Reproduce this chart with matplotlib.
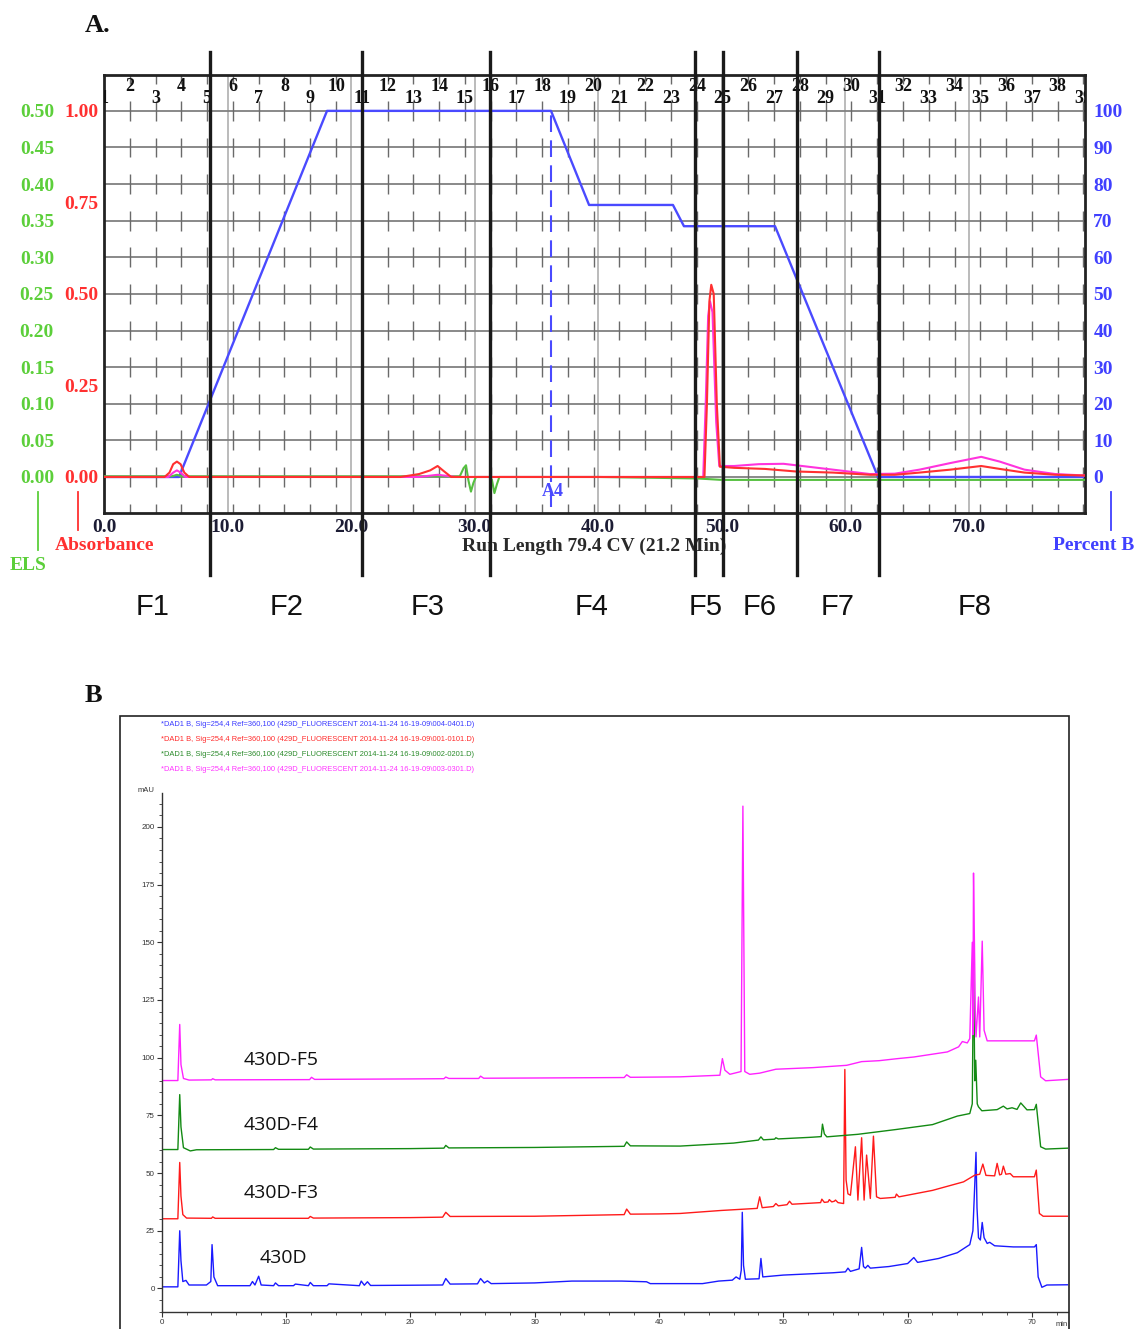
import matplotlib
matplotlib.use("Agg")
import matplotlib.pyplot as plt
from matplotlib.collections import LineCollection
from matplotlib.lines import Line2D
from matplotlib.patches import Rectangle
from matplotlib.transforms import blended_transform_factory

# ---------------- panel A : flash chromatography ----------------
gradient_cv = [0, 6.07, 18.05, 36.18, 39.26, 46.05, 46.94, 54.31, 62.65, 79.4]
gradient_pct = [0, 0, 100, 100, 74.3, 74.3, 68.5, 68.5, 0, 0]

abs_red = [(0, 0.0), (4.9, 0.0), (5.3, 0.012), (5.6, 0.035), (5.9, 0.042), (6.2, 0.035),
           (6.5, 0.012), (6.9, 0.0), (24.0, 0.0), (25.5, 0.008), (26.4, 0.018), (27.0, 0.030),
           (27.5, 0.016), (28.1, 0.0), (48.6, 0.0), (48.8, 0.2), (49.0, 0.48), (49.15, 0.525),
           (49.35, 0.5), (49.6, 0.2), (49.85, 0.028), (51.0, 0.025), (53.5, 0.022), (56.0, 0.015),
           (59.0, 0.012), (62.0, 0.006), (64.0, 0.006), (66.0, 0.012), (68.5, 0.02), (71.0, 0.03),
           (72.5, 0.022), (74.5, 0.012), (77.0, 0.006), (79.4, 0.004)]
abs_pink = [(0, 0.0), (5.2, 0.0), (5.6, 0.012), (5.9, 0.018), (6.2, 0.012), (6.6, 0.0),
            (25.5, 0.0), (27.0, 0.006), (28.5, 0.0), (48.5, 0.0), (48.7, 0.2), (48.9, 0.44),
            (49.05, 0.48), (49.25, 0.45), (49.55, 0.15), (49.8, 0.03), (51.0, 0.03), (53.0, 0.035),
            (55.0, 0.036), (57.0, 0.028), (59.0, 0.02), (62.0, 0.008), (64.0, 0.009), (66.0, 0.02),
            (68.5, 0.038), (71.0, 0.055), (72.5, 0.042), (74.5, 0.02), (77.0, 0.008), (79.4, 0.004)]
els_green = [(0, 0.001), (5.5, 0.001), (5.9, 0.003), (6.3, 0.001), (28.8, 0.001), (29.1, 0.012),
             (29.3, 0.016), (29.5, -0.005), (29.7, -0.02), (29.9, -0.008), (30.1, 0.0), (31.2, 0.0),
             (31.4, -0.004), (31.6, -0.022), (31.8, -0.01), (32.0, 0.0), (40.0, 0.0), (48.0, -0.002),
             (50.0, -0.004), (79.4, -0.004)]

fraction_width_cv = 2.086
n_fractions = 39
fraction_cut_cv = [8.58, 20.88, 31.24, 47.83, 50.1, 56.09, 62.73]
pool_names = ["F1", "F2", "F3", "F4", "F5", "F6", "F7", "F8"]
pool_label_cv = [3.97, 14.81, 26.2, 39.5, 48.7, 53.1, 59.4, 70.5]
a4_cv = 36.2

pct_ticks = list(range(0, 101, 10))
abs_ticks = [0, 0.25, 0.5, 0.75, 1.0]
els_ticks = [0, 0.05, 0.1, 0.15, 0.2, 0.25, 0.3, 0.35, 0.4, 0.45, 0.5]
cv_ticks = [0, 10, 20, 30, 40, 50, 60, 70]

# ---------------- panel B : HPLC traces ----------------
hplc_430d = [(0, 0.7), (1.3, 0.7), (1.45, 25), (1.55, 12), (1.7, 3), (1.95, 3.5), (2.2, 1.5),
             (3.6, 1.5), (3.95, 3), (4.05, 19), (4.2, 5), (4.5, 1.2), (7.1, 1.2), (7.3, 3),
             (7.5, 1.5), (7.8, 5.3), (8.0, 1.5), (9.0, 1.2), (9.15, 2.4), (9.4, 1.2), (10.6, 1.2),
             (10.75, 1.9), (11.8, 1.2), (11.95, 2.6), (12.2, 1.2), (13.3, 1.2), (13.45, 2.0),
             (15.9, 1.2), (16.05, 3.2), (16.3, 1.4), (16.55, 2.9), (16.8, 1.3), (20, 1.4),
             (22.6, 1.5), (22.85, 4.3), (23.2, 1.9), (25.4, 2.0), (25.65, 4.3), (25.95, 2.4),
             (26.2, 3.3), (26.5, 2.1), (30, 2.4), (33, 3.2), (37, 3.2), (39, 2.9), (39.3, 2.1),
             (43.5, 2.1), (44.8, 3.2), (45.9, 3.6), (46.2, 5), (46.5, 4), (46.62, 8), (46.7, 33),
             (46.8, 10), (46.95, 4), (48.05, 4.2), (48.2, 13), (48.35, 5), (50, 5.8), (52, 6.3),
             (54, 6.8), (55.0, 7.2), (55.2, 8.8), (55.4, 7.4), (56.1, 8.5), (56.3, 17.8),
             (56.45, 9.5), (56.6, 8.8), (56.8, 10), (57.0, 8.8), (58.5, 9.5), (60.0, 10.8),
             (60.5, 13.4), (60.8, 11.3), (62.5, 13), (64.0, 15.5), (65.0, 19), (65.25, 25),
             (65.4, 45), (65.5, 59), (65.58, 35), (65.7, 22), (65.85, 21), (66.0, 28.6),
             (66.15, 22), (66.4, 19.5), (66.6, 20), (67.0, 18.5), (68.5, 18), (70.2, 18),
             (70.35, 19), (70.5, 5), (70.8, 0.5), (71.2, 1.5), (72.9, 1.6)]
hplc_f3 = [(0, 30.2), (1.3, 30.2), (1.45, 54.6), (1.55, 40), (1.7, 32), (2.0, 30.5), (4.0, 30.4),
           (4.1, 31), (4.3, 30.4), (11.8, 30.4), (11.95, 31.2), (12.2, 30.5), (20, 30.7),
           (22.6, 30.9), (22.85, 33), (23.2, 31.2), (30, 31.3), (37.2, 32), (37.4, 34.4),
           (37.7, 32.2), (40, 32.3), (41.7, 32.5), (45, 33.8), (47.9, 34.7), (48.1, 39.7),
           (48.3, 35), (49.2, 35.5), (49.4, 36.8), (49.6, 35.8), (50.3, 36.3), (50.5, 37.8),
           (50.7, 36.5), (53.0, 37.2), (53.1, 38.7), (53.3, 37.3), (53.6, 37.5), (53.7, 38.5),
           (53.9, 37.5), (54.1, 37.8), (54.2, 38.3), (54.4, 37.2), (54.85, 36.8), (54.95, 94.9),
           (55.05, 47), (55.2, 41), (55.4, 40.4), (55.8, 61.4), (56.0, 38.3), (56.3, 65.3),
           (56.5, 38.3), (56.7, 57.8), (57.0, 39), (57.25, 66), (57.5, 39.7), (57.8, 39),
           (59.0, 39.5), (59.1, 40.9), (59.3, 39.7), (62, 42.5), (64.5, 46.2), (65.4, 49.1),
           (65.8, 49.5), (66.05, 53.9), (66.3, 49), (67.0, 48.8), (67.2, 54.2), (67.4, 49.2),
           (67.55, 49.5), (67.7, 53), (67.9, 49.5), (68.25, 49.8), (68.5, 48.4), (70.2, 48.4),
           (70.35, 51.3), (70.6, 32.5), (70.9, 31.3), (72.9, 31.3)]
hplc_f4 = [(0, 60.2), (1.3, 60.2), (1.45, 84), (1.55, 70), (1.75, 61), (2.3, 59.6), (2.8, 60.1),
           (9.0, 60.2), (9.15, 61), (9.4, 60.3), (11.8, 60.3), (11.95, 61.3), (12.2, 60.4),
           (20, 60.6), (22.7, 60.8), (22.85, 62), (23.1, 60.9), (30, 61.1), (37.2, 61.6),
           (37.4, 63.5), (37.7, 61.8), (41.7, 61.7), (46, 63), (48.0, 64.3), (48.2, 65.7),
           (48.4, 64.4), (49.3, 64.7), (49.4, 65.3), (49.6, 64.8), (52.2, 65.5), (53.05, 65.8),
           (53.15, 71.2), (53.3, 67), (53.5, 65.7), (56, 66.8), (59.1, 68.9), (62, 71),
           (64.0, 74.7), (65.0, 75.8), (65.2, 80), (65.3, 143.2), (65.4, 90), (65.48, 98.9),
           (65.6, 80), (65.7, 78.7), (65.97, 77), (67.2, 77.5), (67.7, 79), (68.0, 77.8),
           (68.4, 78.3), (68.8, 77.6), (69.1, 80.4), (69.6, 77.4), (70.2, 77.5), (70.35, 79.8),
           (70.7, 61.4), (71.1, 60.4), (72.9, 60.8)]
hplc_f5 = [(0, 90.1), (1.3, 90.1), (1.45, 114.4), (1.55, 97), (1.75, 91), (2.2, 90.3), (4.0, 90.4),
           (4.1, 90.9), (4.3, 90.4), (11.9, 90.5), (12.05, 91.5), (12.3, 90.6), (20, 90.8),
           (22.7, 90.9), (22.85, 91.6), (23.1, 91), (25.5, 91), (25.65, 92), (25.9, 91.1),
           (30, 91.2), (37.2, 91.4), (37.4, 92.6), (37.7, 91.5), (41.7, 91.7), (44.9, 92.4),
           (45.1, 99.6), (45.3, 94.6), (45.7, 92.8), (46.3, 93.6), (46.6, 94), (46.75, 209),
           (46.9, 94), (47.3, 92.8), (48.1, 93.3), (49.4, 95.0), (52.4, 95.7), (55.1, 96.7),
           (56.3, 98.3), (57.7, 98.7), (59.2, 99.6), (60.5, 100.3), (63.2, 102.5), (64.1, 104.7),
           (64.4, 107), (64.8, 106.4), (65.0, 108.3), (65.2, 150), (65.25, 110), (65.3, 180),
           (65.35, 159.6), (65.45, 117.7), (65.5, 109), (65.7, 126.3), (65.8, 109), (66.0, 150.5),
           (66.15, 111.9), (66.4, 107.3), (70.2, 107.3), (70.35, 109.8), (70.7, 91.7), (71.1, 90),
           (72.9, 90.6)]

trace_names = ["430D", "430D-F3", "430D-F4", "430D-F5"]
trace_colors = ["#1a1aff", "#ff1a1a", "#138a13", "#ff22ff"]
trace_label_pos = [(7.9, 13.1), (6.55, 41.3), (6.55, 70.7), (6.55, 98.9)]
legend_lines = [
    ("*DAD1 B, Sig=254,4 Ref=360,100 (429D_FLUORESCENT 2014-11-24 16-19-09\\004-0401.D)", "#3a3aff"),
    ("*DAD1 B, Sig=254,4 Ref=360,100 (429D_FLUORESCENT 2014-11-24 16-19-09\\001-0101.D)", "#ff2a2a"),
    ("*DAD1 B, Sig=254,4 Ref=360,100 (429D_FLUORESCENT 2014-11-24 16-19-09\\002-0201.D)", "#2a8a2a"),
    ("*DAD1 B, Sig=254,4 Ref=360,100 (429D_FLUORESCENT 2014-11-24 16-19-09\\003-0301.D)", "#ff33ff"),
]

W, H = 1139, 1329
GREEN, RED, BLUE, PINK = "#5ccf3a", "#ff3030", "#4040ff", "#ff33dd"
SERIF = "Liberation Serif"
SMALL = "Liberation Sans"

def fx(px):
    return px / W

def fy(py):
    return 1 - py / H

plt.rcParams["font.family"] = SERIF
fig = plt.figure(figsize=(W / 100, H / 100), dpi=100)
fig.patch.set_facecolor("white")

# ======== panel A ========
axA = fig.add_axes([fx(104), fy(513), (1085 - 104) / W, (513 - 75) / H])
axA.set_xlim(0, 79.4)
axA.set_ylim(-9.84, 109.8)
for s in axA.spines.values():
    s.set_linewidth(2)
    s.set_color("#222222")

axEls = axA.twinx()
axAbs = axA.twinx()

axA.set_xticks(cv_ticks, labels=[f"{v:.1f}" for v in cv_ticks],
               fontsize=14, fontweight="bold", color="#1c1c34", family=SERIF)
axA.set_yticks(pct_ticks, labels=[str(v) for v in pct_ticks],
               fontsize=14, fontweight="bold", color=BLUE, family=SERIF)
axA.yaxis.tick_right()
axA.tick_params(axis="x", length=0, pad=4)
axA.tick_params(axis="y", length=0, pad=6, labelright=True, labelleft=False)
axA.grid(axis="y", color="#808080", lw=1.3)
axA.grid(axis="x", color="#a8a8a8", lw=1.1)
axA.set_axisbelow(True)

# fraction collector marks
frac_x = [(n - 1) * fraction_width_cv for n in range(2, n_fractions + 1)]
segs = [[(x, lv - 2.7), (x, lv + 2.7)] for x in frac_x for lv in range(-10, 120, 10)]
axA.add_collection(LineCollection(segs, colors="#6a6a6a", linewidths=1.0, zorder=1.5))
for n in range(1, n_fractions + 1):
    axA.text((n - 1) * fraction_width_cv, 106.6 if n % 2 == 0 else 103.4, str(n),
             ha="center", va="center", fontsize=13, fontweight="bold", color="#111111",
             clip_on=True)

axA.plot(gradient_cv, gradient_pct, color="#4a4aff", lw=1.7, zorder=2)
axA.plot([a4_cv, a4_cv], [-8.2, 100], color="#4a4aff", lw=1.5, ls=(0, (8, 4)), zorder=2)
axA.text(a4_cv + 0.1, -4.1, "A4", color="#4a4aff", fontsize=13, fontweight="bold",
         ha="center", va="center")
axA.text(0.5, -0.075, "Run Length 79.4 CV (21.2 Min)", transform=axA.transAxes,
         ha="center", va="center", fontsize=14, fontweight="bold", color="#2a2a2a")

axEls.set_ylim(-0.0492, 0.549)
axEls.yaxis.set_ticks_position("left")
axEls.set_yticks(els_ticks, labels=[f"{v:.2f}" for v in els_ticks],
                 fontsize=14, fontweight="bold", color=GREEN, family=SERIF)
axEls.tick_params(axis="y", length=0, pad=36)
axEls.plot([p[0] for p in els_green], [p[1] for p in els_green], color="#55c040", lw=1.5)

axAbs.set_ylim(-0.0984, 1.098)
axAbs.yaxis.set_ticks_position("left")
axAbs.set_yticks(abs_ticks, labels=[f"{v:.2f}" for v in abs_ticks],
                 fontsize=14, fontweight="bold", color=RED, family=SERIF)
axAbs.tick_params(axis="y", length=0, pad=4)
axAbs.plot([p[0] for p in abs_pink], [p[1] for p in abs_pink], color=PINK, lw=1.5)
axAbs.plot([p[0] for p in abs_red], [p[1] for p in abs_red], color=RED, lw=1.5)
for a in (axEls, axAbs):
    for s in a.spines.values():
        s.set_visible(False)

# pool boundaries
blend = blended_transform_factory(axA.transData, fig.transFigure)
for c in fraction_cut_cv:
    fig.add_artist(Line2D([c, c], [fy(52), fy(575)], transform=blend,
                          color="#1a1a1a", lw=2.4))
for name, c in zip(pool_names, pool_label_cv):
    t = fig.text(0, fy(607), name, transform=blend, ha="center", va="center",
                 fontsize=21, family="Liberation Sans", color="#111111")
    t.set_x(c)

# axis captions A
fig.add_artist(Line2D([fx(38), fx(38)], [fy(492), fy(550)], color=GREEN, lw=1.3))
fig.text(fx(28), fy(565), "ELS", color=GREEN, fontsize=14, fontweight="bold",
         ha="center", va="center")
fig.add_artist(Line2D([fx(78), fx(78)], [fy(492), fy(530)], color=RED, lw=1.3))
fig.text(fx(105), fy(545), "Absorbance", color=RED, fontsize=14, fontweight="bold",
         ha="center", va="center")
fig.add_artist(Line2D([fx(1111), fx(1111)], [fy(492), fy(530)], color=BLUE, lw=1.3))
fig.text(fx(1094), fy(545), "Percent B", color=BLUE, fontsize=14, fontweight="bold",
         ha="center", va="center")
fig.text(fx(85), fy(25), "A.", fontsize=19, fontweight="bold", va="center", color="#111111")
fig.text(fx(85), fy(695), "B", fontsize=19, fontweight="bold", va="center", color="#111111")

# ======== panel B ========
fig.add_artist(Rectangle((fx(120), fy(1340)), (1069 - 120) / W, (1340 - 716) / H,
                         fill=False, ec="#222222", lw=1.2, transform=fig.transFigure))
axB = fig.add_axes([fx(161.7), fy(1312), (1068 - 161.7) / W, (1312 - 793) / H])
axB.set_xlim(0, 72.9)
axB.set_ylim(-10.2, 214.7)
axB.spines["top"].set_visible(False)
axB.spines["right"].set_visible(False)
for s in ("left", "bottom"):
    axB.spines[s].set_linewidth(1.0)
    axB.spines[s].set_color("#333333")
axB.set_xticks(range(0, 71, 10))
axB.set_xticks(range(0, 73, 2), minor=True)
axB.set_yticks(range(0, 201, 25))
axB.set_yticks(range(-10, 215, 5), minor=True)
axB.tick_params(which="major", length=3.5, width=0.8, color="#333333",
                labelsize=5.8, labelcolor="#333333", pad=1.5, labelfontfamily=SMALL)
axB.tick_params(which="minor", length=2, width=0.6, color="#333333")

series = [hplc_430d, hplc_f3, hplc_f4, hplc_f5]
for data, col, name, pos in zip(series, trace_colors, trace_names, trace_label_pos):
    axB.plot([p[0] for p in data], [p[1] for p in data], color=col, lw=1.0)
    axB.text(pos[0], pos[1], name, fontsize=14, family="Open Sans", color="#111111",
             va="center", ha="left")

fig.text(fx(146), fy(791), "mAU", fontsize=5.5, family=SMALL, color="#333333",
         ha="center", va="center")
fig.text(fx(1062), fy(1325), "min", fontsize=5.5, family=SMALL, color="#333333",
         ha="center", va="center")
for i, (txt, col) in enumerate(legend_lines):
    fig.text(fx(161), fy(724 + i * 15.3), txt, fontsize=5.4, family=SMALL, color=col,
             ha="left", va="center")

fig.savefig("out.png", dpi=100)
